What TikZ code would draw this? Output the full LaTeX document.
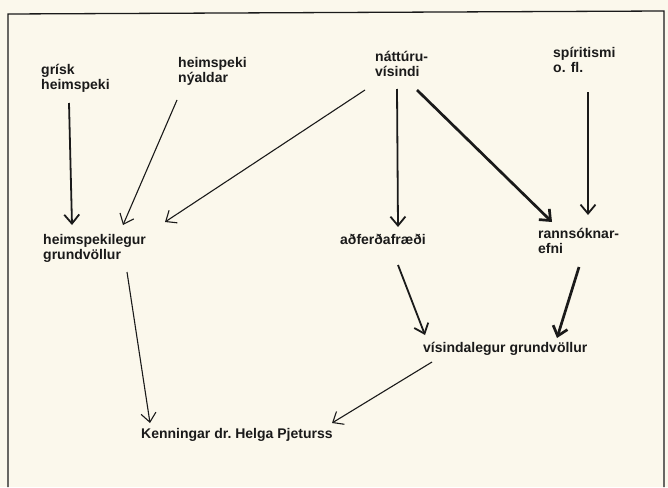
\documentclass[tikz,border=0pt]{standalone}
\usepackage{fontspec}
\setmainfont{Liberation Sans}
\usepackage{xcolor}
\usetikzlibrary{positioning,calc,arrows.meta}
\definecolor{paper}{HTML}{FBF8EC}
\definecolor{ink}{HTML}{1A1A1A}
\tikzset{
  label/.style  = {anchor=north west, inner sep=0pt, align=left, text=ink,
                   font=\bfseries\fontsize{14}{15.5}\selectfont},
  link/.style   = {draw=ink, line width=1.1pt,
                   -{Straight Barb[length=9pt,width=15pt]}},
  link b/.style = {link, line width=1.8pt},
  link c/.style = {link, line width=2.7pt}
}
\begin{document}
\begin{tikzpicture}[x=1pt,y=-1pt]
% paper and frame
\fill[paper] (0,0) rectangle (668,487);
\useasboundingbox (0,0) rectangle (668,487);
\draw[ink, line width=1.3pt] (8,487) -- (8,14) -- (664,11) -- (664,487);

% top row
\node[label] (grisk)   at (41,64)  {grísk\\heimspeki};
\node[label] (nyaldar) at (178,57) {heimspeki\\nýaldar};
\node[label] (natt)    at (375,51) {náttúru-\\vísindi};
\node[label] (spirit)  at (553,47) {spíritismi\\o. fl.};
% middle row
\node[label] (heimgr)  at (43,234)  {heimspekilegur\\grundvöllur};
\node[label] (adferd)  at (340,234) {aðferðafræði};
\node[label] (rann)    at (538,228) {rannsóknar-\\efni};
% lower rows
\node[label] (visgr)   at (423,342) {vísindalegur grundvöllur};
\node[label] (kenn)    at (141,428) {Kenningar dr.\ Helga Pjeturss};

% arrows into the middle row
\draw[link b] ($(grisk.north west)+(28,39)$)   -- ($(heimgr.north west)+(29,-9)$);
\draw[link]   ($(nyaldar.north west)+(-1,43)$) -- ($(heimgr.north west)+(80,-9)$);
\draw[link]   ($(natt.north west)+(-10,39)$)   -- ($(heimgr.north west)+(122,-12)$);
\draw[link b] ($(natt.north west)+(22,38)$)    -- ($(adferd.north west)+(58,-7)$);
\draw[link c] ($(natt.north west)+(42,39)$)    -- ($(rann.north west)+(14,-6)$);
\draw[link b] ($(spirit.north west)+(35,45)$)  -- ($(rann.north west)+(50,-13)$);
% arrows into vísindalegur grundvöllur
\draw[link b] ($(adferd.north west)+(58,31)$)  -- ($(visgr.north west)+(2,-7)$);
\draw[link c] ($(rann.north west)+(41,39)$)    -- ($(visgr.north west)+(134,-4)$);
% arrows into Kenningar
\draw[link]   ($(heimgr.north west)+(84,38)$)  -- ($(kenn.north west)+(9,-5)$);
\draw[link]   ($(visgr.north west)+(9,20)$)    -- ($(kenn.north west)+(191,-5)$);
\end{tikzpicture}
\end{document}
